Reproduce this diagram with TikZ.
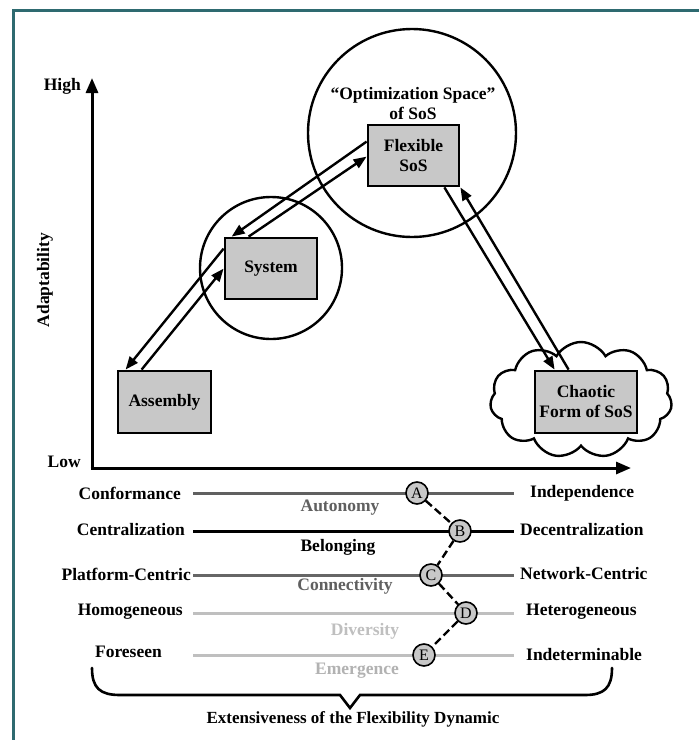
\documentclass[tikz,border=0pt]{standalone}
\usepackage{fontspec}
\setmainfont{Liberation Serif}
\usetikzlibrary{arrows.meta,shapes.symbols,calc}
\definecolor{frameteal}{HTML}{2E6A70}
\definecolor{boxgray}{HTML}{C8C8C8}
\begin{document}
\begin{tikzpicture}[x=1pt,y=-1pt,
  lbl/.style={font=\fontsize{17.5}{20}\selectfont\bfseries, inner sep=0},
  stagebox/.style={draw, line width=2.8pt, fill=boxgray, inner sep=0, align=center,
    font=\fontsize{17.5}{20}\selectfont\bfseries},
  ring/.style={draw, circle, line width=2.4pt, inner sep=0},
  flow/.style={line width=2.4pt, -{Triangle[length=13pt,width=10pt]}},
  axis/.style={line width=3pt, -{Triangle[length=15pt,width=12pt]}},
  marker/.style={draw, circle, line width=1.6pt, fill=boxgray, inner sep=0, minimum size=22pt,
    font=\fontsize{16}{16}\selectfont},
  link/.style={line width=2.4pt, dash pattern=on 8pt off 4pt},
  scaleline/.style={line width=3pt}
]
\useasboundingbox (0,0) rectangle (699,740);
\fill[white] (0,0) rectangle (699,740);
% outer frame
\draw[frameteal, line width=3pt] (13,740) -- (13,10) -- (699,10);

% axes
\coordinate (origin) at (92,468);
\coordinate (ytop) at (92,78);
\coordinate (xend) at (631,468);
\draw[axis] (origin) -- (ytop);
\draw[axis] ($(origin)+(-1.5,0)$) -- (xend);
\node[lbl, anchor=east] (high) at (81,86) {High};
\node[lbl, anchor=east] (low) at (81,462) {Low};
\node[lbl, rotate=90] (adapt) at (45,280) {Adaptability};

% regions
\node[ring, minimum size=142pt] (sysring) at (271,268) {};
\node[ring, minimum size=208pt] (optring) at (412,133) {};
\node[lbl, align=center] (opt) at (413,104) {``Optimization Space''\\[0pt]of SoS};
\node[cloud, cloud puffs=11, cloud puff arc=120, draw, line width=2.4pt, fill=white,
      minimum width=182pt, minimum height=116pt] (cloud) at (581,400) {};

% stages
\node[stagebox, minimum width=93pt, minimum height=62pt] (asm) at (164.5,402) {Assembly};
\node[stagebox, minimum width=92pt, minimum height=61pt] (sys) at (271,268.5) {System};
\node[stagebox, minimum width=91pt, minimum height=61pt] (flex) at (413.5,155.5) {Flexible\\SoS};
\node[stagebox, minimum width=102pt, minimum height=62pt] (cha) at (586,402) {Chaotic\\Form of SoS};

% transitions
\draw[flow] ($(sys.north west)+(0,12)$) -- ($(asm.north west)+(9,0)$);
\draw[flow] ($(asm.north west)+(25,0)$) -- ($(sys.north west)+(0,32)$);
\draw[flow] ($(flex.north west)+(0,18)$) -- ($(sys.north west)+(8,0)$);
\draw[flow] ($(sys.north west)+(25,0)$) -- ($(flex.north west)+(0,33)$);
\draw[flow] ($(flex.south east)+(-16,0)$) -- ($(cha.north west)+(21,0)$);
\draw[flow] ($(cha.north west)+(35,0)$) -- (flex.south east);

% flexibility scales
\coordinate (s1a) at (193,493); \coordinate (s1b) at (514,493);
\coordinate (s2a) at (193,531); \coordinate (s2b) at (514,531);
\coordinate (s3a) at (193,575); \coordinate (s3b) at (514,575);
\coordinate (s4a) at (193,613); \coordinate (s4b) at (514,613);
\coordinate (s5a) at (193,655); \coordinate (s5b) at (514,655);
\draw[scaleline, gray!75!black] (s1a) -- (s1b);
\draw[scaleline, black] (s2a) -- (s2b);
\draw[scaleline, gray!80!black] (s3a) -- (s3b);
\draw[scaleline, gray!50] (s4a) -- (s4b);
\draw[scaleline, gray!50] (s5a) -- (s5b);

\node[lbl, anchor=east] (conf) at (181,493) {Conformance};
\node[lbl, anchor=east] (cent) at (185,530) {Centralization};
\node[lbl, anchor=east] (plat) at (191,574) {Platform-Centric};
\node[lbl, anchor=east] (homo) at (183,612) {Homogeneous};
\node[lbl, anchor=east] (fore) at (162,652) {Foreseen};

\node[lbl, anchor=west] (indep) at (530,493) {Independence};
\node[lbl, anchor=west] (decent) at (520,530) {Decentralization};
\node[lbl, anchor=west] (netc) at (520,574) {Network-Centric};
\node[lbl, anchor=west] (hetero) at (526,612) {Heterogeneous};
\node[lbl, anchor=west] (indet) at (526,655) {Indeterminable};

\node[lbl, text=gray!75!black] (auto) at (340,508) {Autonomy};
\node[lbl, text=black] (belong) at (338,547) {Belonging};
\node[lbl, text=gray!75!black] (conn) at (345,586) {Connectivity};
\node[lbl, text=gray!50] (div) at (365,631) {Diversity};
\node[lbl, text=gray!60] (emer) at (357,671) {Emergence};

\node[marker] (A) at (417,493) {A};
\node[marker] (B) at (460,531) {B};
\node[marker] (C) at (431,575) {C};
\node[marker] (D) at (466,613) {D};
\node[marker] (E) at (424,655) {E};
\draw[link] (A) -- (B);
\draw[link] (B) -- (C);
\draw[link] (C) -- (D);
\draw[link] (D) -- (E);

% brace under the scales
\coordinate (bl) at (92,668);
\coordinate (br) at (612,668);
\coordinate (tip) at (350,708);
\draw[line width=2.6pt, line cap=round]
  (bl) .. controls (92,688) and (100,695) .. (120,695)
  -- (340,695) -- (tip) -- (360,695) -- (585,695)
  .. controls (604,695) and (612,688) .. (br);
\node[lbl, font=\fontsize{17}{20}\selectfont\bfseries] (ext) at (353,719) {Extensiveness of the Flexibility Dynamic};
\end{tikzpicture}
\end{document}
